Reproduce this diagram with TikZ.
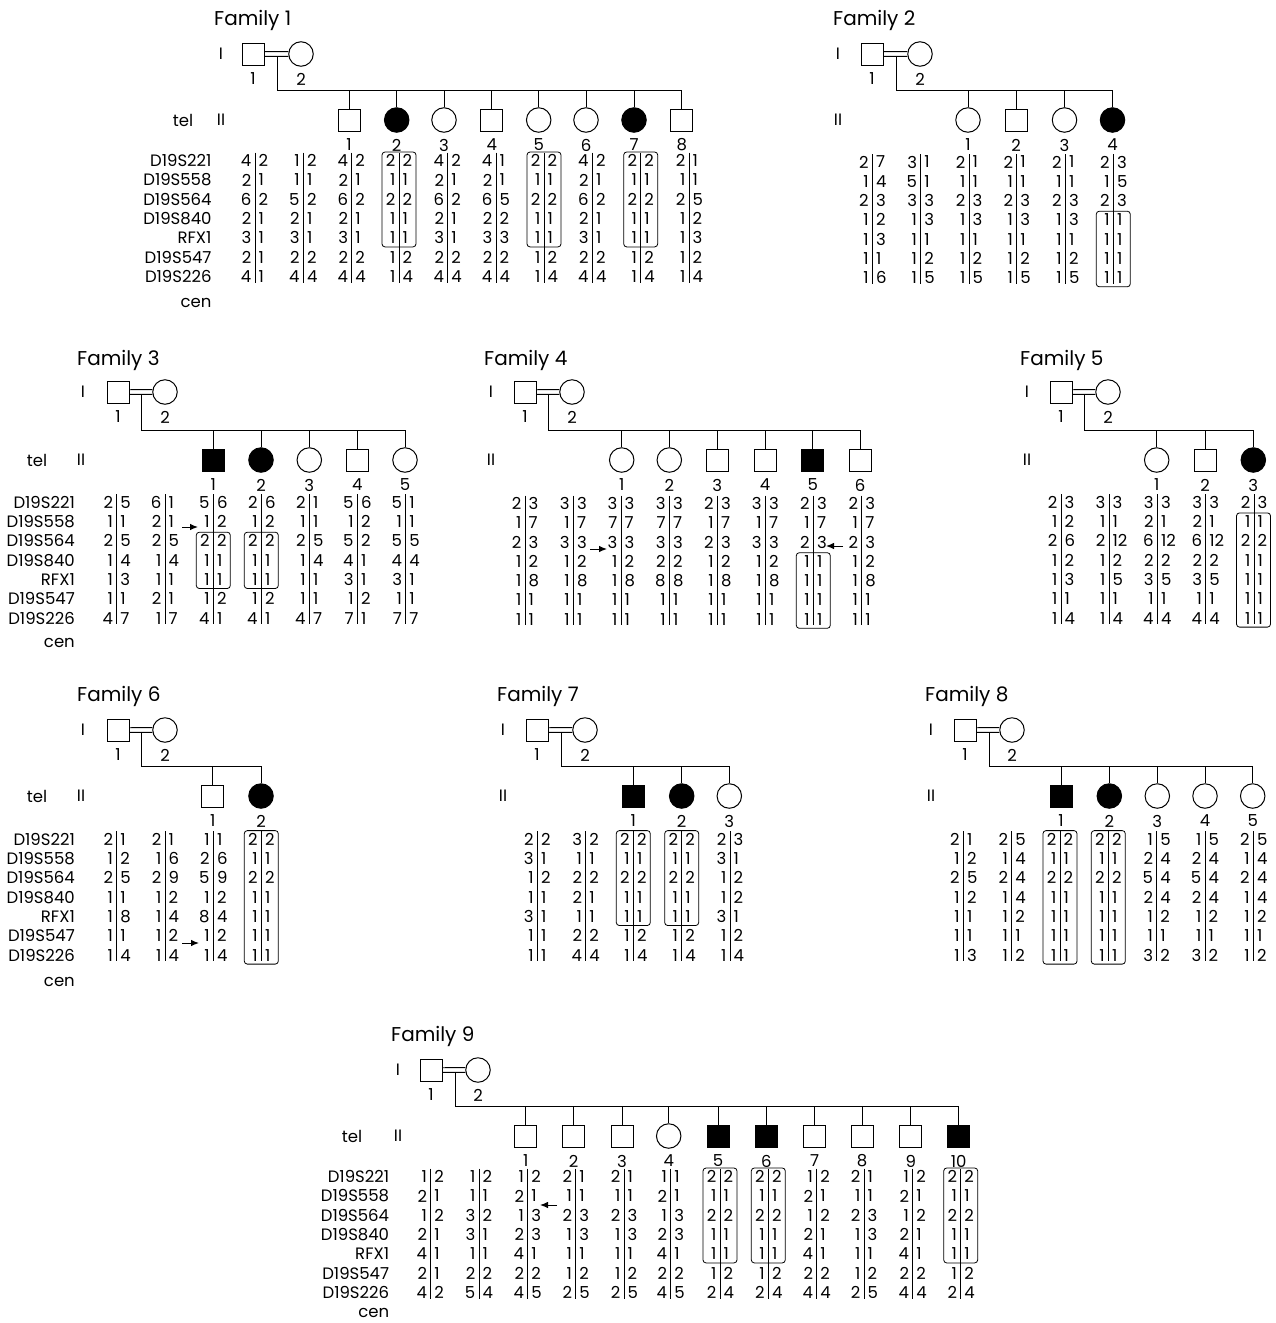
\documentclass[tikz,border=0pt]{standalone}
\usepackage{fontspec}
\setmainfont{Poppins}
\usetikzlibrary{arrows.meta}
\newcommand\df{\fontsize{16.5}{19}\selectfont}
\newcommand\tf{\fontsize{20}{23}\selectfont}
\def\rs{19.3}
\tikzset{
 sym/.style={draw, line width=1pt, inner sep=0pt},
 sq/.style={sym, rectangle, minimum size=22pt},
 sqf/.style={sq, fill=black},
 ci/.style={sym, circle, minimum size=24.5pt},
 cif/.style={ci, fill=black},
 dig/.style={inner sep=0pt, font=\df},
 tt/.style={inner sep=0pt, font=\tf},
 hbar/.style={line width=0.9pt},
 hbx/.style={line width=0.8pt, rounded corners=3pt},
 arr/.style={line width=1pt, -{Latex[length=8pt,width=6.5pt]}},
 ln/.style={line width=0.9pt},
}
\newcommand{\hapcol}[4]{%
  \coordinate (#1t) at (#2,#3-8);
  \coordinate (#1b) at (#2,#3+6*\rs+6);
  \draw[hbar] (#1t) -- (#1b);
  \foreach \hL/\hR [count=\i from 0] in {#4}{%
    \node[dig,anchor=east] (#1l\i) at (#2-3.5,#3+\i*\rs) {\hL};
    \node[dig,anchor=west] (#1r\i) at (#2+3.5,#3+\i*\rs) {\hR};
  }%
}
\newcommand{\markers}[4]{%
  \foreach \m [count=\i from 0] in {D19S221,D19S558,D19S564,D19S840,RFX1,D19S547,D19S226}{%
    \node[dig,anchor=east] (#1m\i) at (#2,#3+\i*\rs) {\m};
  }%
  \node[dig,anchor=east] (#1cen) at (#2,#3+6*\rs+#4) {cen};
}
\newcommand{\parents}[5]{%
  \node[sq] (#1p1) at (#2,#4) {};
  \node[ci] (#1p2) at (#3,#4) {};
  \draw[ln] ([yshift=2.3pt]#1p1.east) -- (#1p2.169);
  \draw[ln] ([yshift=-2.3pt]#1p1.east) -- (#1p2.191);
  \node[dig] (#1pl1) at (#2,#4+25) {1};
  \node[dig] (#1pl2) at (#3,#4+25) {2};
  \coordinate (#1j) at (#5,#4+2.3);
}
\newcommand{\sibs}[4]{%
  \coordinate (#1s) at (#2,#3);
  \coordinate (#1e) at (#4,#3);
  \draw[ln] (#1j) -- (#1s) -- (#1e);
}
\newcommand{\kid}[5]{%
  \node[#5] (#1c#2) at (#3,#4) {};
  \node[dig] (#1n#2) at (#3,#4+25) {#2};
  \draw[ln] (#1c#2.north) -- (#1c#2.north |- #1s);
}
\newcommand{\hapbox}[5]{%
  \coordinate (#1a) at (#2-17,#3+#4*\rs-\rs-8.7);
  \coordinate (#1b) at (#2+17,#3+#5*\rs-\rs+9);
  \draw[hbx] (#1a) rectangle (#1b);
}
\newcommand{\harrow}[4]{%
  \coordinate (#1a) at (#2,#4);
  \coordinate (#1b) at (#3,#4);
  \draw[arr] (#1a) -- (#1b);
}
\begin{document}
\begin{tikzpicture}[x=1pt,y=-1pt]
\path[use as bounding box] (0,0) rectangle (1275,1323);

% ---------------- Family 1
\node[tt,anchor=base west] (f1t) at (214,25) {Family 1};
\node[dig] (f1I) at (221,54) {I};
\node[dig] (f1II) at (221,120) {II};
\node[dig] (f1tel) at (183,120) {tel};
\parents{f1}{253}{301}{54}{277.3}
\sibs{f1}{277.3}{90}{681.7}
\kid{f1}{1}{349}{120}{sq}
\kid{f1}{2}{396.7}{120}{cif}
\kid{f1}{3}{444}{120}{ci}
\kid{f1}{4}{491.7}{120}{sq}
\kid{f1}{5}{538.7}{120}{ci}
\kid{f1}{6}{586}{120}{ci}
\kid{f1}{7}{634}{120}{cif}
\kid{f1}{8}{681.7}{120}{sq}
\markers{f1}{211.7}{160.7}{26.5}
\hapcol{f1h1}{255}{160.7}{4/2,2/1,6/2,2/1,3/1,2/1,4/1}
\hapcol{f1h2}{303.3}{160.7}{1/2,1/1,5/2,2/1,3/1,2/2,4/4}
\hapcol{f1h3}{351.7}{160.7}{4/2,2/1,6/2,2/1,3/1,2/2,4/4}
\hapcol{f1h4}{399}{160.7}{2/2,1/1,2/2,1/1,1/1,1/2,1/4}
\hapcol{f1h5}{447.7}{160.7}{4/2,2/1,6/2,2/1,3/1,2/2,4/4}
\hapcol{f1h6}{496}{160.7}{4/1,2/1,6/5,2/2,3/3,2/2,4/4}
\hapcol{f1h7}{544}{160.7}{2/2,1/1,2/2,1/1,1/1,1/2,1/4}
\hapcol{f1h8}{592.3}{160.7}{4/2,2/1,6/2,2/1,3/1,2/2,4/4}
\hapcol{f1h9}{640.7}{160.7}{2/2,1/1,2/2,1/1,1/1,1/2,1/4}
\hapcol{f1hA}{689}{160.7}{2/1,1/1,2/5,1/2,1/3,1/2,1/4}
\hapbox{f1x1}{399}{160.7}{1}{5}
\hapbox{f1x2}{544}{160.7}{1}{5}
\hapbox{f1x3}{640.7}{160.7}{1}{5}

% ---------------- Family 2
\node[tt,anchor=base west] (f2t) at (833,25) {Family 2};
\node[dig] (f2I) at (838,54) {I};
\node[dig] (f2II) at (838,120) {II};
\parents{f2}{872}{920}{54}{896}
\sibs{f2}{896}{90}{1112.5}
\kid{f2}{1}{968}{120}{ci}
\kid{f2}{2}{1016}{120}{sq}
\kid{f2}{3}{1064.5}{120}{ci}
\kid{f2}{4}{1112.5}{120}{cif}
\hapcol{f2h1}{872.3}{162}{2/7,1/4,2/3,1/2,1/3,1/1,1/6}
\hapcol{f2h2}{920.7}{162}{3/1,5/1,3/3,1/3,1/1,1/2,1/5}
\hapcol{f2h3}{969}{162}{2/1,1/1,2/3,1/3,1/1,1/2,1/5}
\hapcol{f2h4}{1016.7}{162}{2/1,1/1,2/3,1/3,1/1,1/2,1/5}
\hapcol{f2h5}{1065.3}{162}{2/1,1/1,2/3,1/3,1/1,1/2,1/5}
\hapcol{f2h6}{1113.3}{162}{2/3,1/5,2/3,1/1,1/1,1/1,1/1}
\hapbox{f2x1}{1113.3}{162}{4}{7}

% ---------------- Family 3
\node[tt,anchor=base west] (f3t) at (77,365) {Family 3};
\node[dig] (f3I) at (83,392) {I};
\node[dig] (f3II) at (81,460) {II};
\node[dig] (f3tel) at (37,460) {tel};
\parents{f3}{118}{165}{392}{141}
\sibs{f3}{141}{430}{405}
\kid{f3}{1}{213.3}{460}{sqf}
\kid{f3}{2}{261}{460}{cif}
\kid{f3}{3}{309.3}{460}{ci}
\kid{f3}{4}{357.3}{460}{sq}
\kid{f3}{5}{405}{460}{ci}
\markers{f3}{75}{502.3}{25}
\hapcol{f3h1}{116.7}{502.3}{2/5,1/1,2/5,1/4,1/3,1/1,4/7}
\hapcol{f3h2}{165}{502.3}{6/1,2/1,2/5,1/4,1/1,2/1,1/7}
\hapcol{f3h3}{213.3}{502.3}{5/6,1/2,2/2,1/1,1/1,1/2,4/1}
\hapcol{f3h4}{261.3}{502.3}{2/6,1/2,2/2,1/1,1/1,1/2,4/1}
\hapcol{f3h5}{309.3}{502.3}{2/1,1/1,2/5,1/4,1/1,1/1,4/7}
\hapcol{f3h6}{357.3}{502.3}{5/6,1/2,5/2,4/1,3/1,1/2,7/1}
\hapcol{f3h7}{405.7}{502.3}{5/1,1/1,5/5,4/4,3/1,1/1,7/7}
\hapbox{f3x1}{213.3}{502.3}{3}{5}
\hapbox{f3x2}{261.3}{502.3}{3}{5}
\harrow{f3a1}{182}{198}{527}

% ---------------- Family 4
\node[tt,anchor=base west] (f4t) at (484,365) {Family 4};
\node[dig] (f4I) at (491,392) {I};
\node[dig] (f4II) at (491,460) {II};
\parents{f4}{525}{572}{392}{548}
\sibs{f4}{548}{430}{860}
\kid{f4}{1}{621.7}{460}{ci}
\kid{f4}{2}{669.3}{460}{ci}
\kid{f4}{3}{717.3}{460}{sq}
\kid{f4}{4}{765}{460}{sq}
\kid{f4}{5}{812.7}{460}{sqf}
\kid{f4}{6}{860}{460}{sq}
\hapcol{f4h1}{525}{503.5}{2/3,1/7,2/3,1/2,1/8,1/1,1/1}
\hapcol{f4h2}{573.3}{503.5}{3/3,1/7,3/3,1/2,1/8,1/1,1/1}
\hapcol{f4h3}{621}{503.5}{3/3,7/7,3/3,1/2,1/8,1/1,1/1}
\hapcol{f4h4}{669.3}{503.5}{3/3,7/7,3/3,2/2,8/8,1/1,1/1}
\hapcol{f4h5}{717.3}{503.5}{2/3,1/7,2/3,1/2,1/8,1/1,1/1}
\hapcol{f4h6}{765.3}{503.5}{3/3,1/7,3/3,1/2,1/8,1/1,1/1}
\hapcol{f4h7}{813.3}{503.5}{2/3,1/7,2/3,1/1,1/1,1/1,1/1}
\hapcol{f4h8}{861.7}{503.5}{2/3,1/7,2/3,1/2,1/8,1/1,1/1}
\hapbox{f4x1}{813.3}{503.5}{4}{7}
\harrow{f4a1}{590}{607}{549}
\harrow{f4a2}{843}{826}{546}

% ---------------- Family 5
\node[tt,anchor=base west] (f5t) at (1020,365) {Family 5};
\node[dig] (f5I) at (1027,392) {I};
\node[dig] (f5II) at (1027,460) {II};
\parents{f5}{1061}{1108}{392}{1084}
\sibs{f5}{1084}{430}{1253.3}
\kid{f5}{1}{1156.7}{460}{ci}
\kid{f5}{2}{1205}{460}{sq}
\kid{f5}{3}{1253.3}{460}{cif}
\hapcol{f5h1}{1061}{502.3}{2/3,1/2,2/6,1/2,1/3,1/1,1/4}
\hapcol{f5h2}{1109}{502.3}{3/3,1/1,2/12,1/2,1/5,1/1,1/4}
\hapcol{f5h3}{1157.3}{502.3}{3/3,2/1,6/12,2/2,3/5,1/1,4/4}
\hapcol{f5h4}{1205.7}{502.3}{3/3,2/1,6/12,2/2,3/5,1/1,4/4}
\hapcol{f5h5}{1254}{502.3}{2/3,1/1,2/2,1/1,1/1,1/1,1/1}
\hapbox{f5x1}{1253.5}{502.3}{2}{7}

% ---------------- Family 6
\node[tt,anchor=base west] (f6t) at (77,701) {Family 6};
\node[dig] (f6I) at (83,730) {I};
\node[dig] (f6II) at (81,796) {II};
\node[dig] (f6tel) at (37,796) {tel};
\parents{f6}{118}{165}{730}{141}
\sibs{f6}{141}{766}{261}
\kid{f6}{1}{212.7}{796}{sq}
\kid{f6}{2}{261}{796}{cif}
\markers{f6}{75}{839.3}{27}
\hapcol{f6h1}{116.7}{839.3}{2/1,1/2,2/5,1/1,1/8,1/1,1/4}
\hapcol{f6h2}{165}{839.3}{2/1,1/6,2/9,1/2,1/4,1/2,1/4}
\hapcol{f6h3}{213.3}{839.3}{1/1,2/6,5/9,1/2,8/4,1/2,1/4}
\hapcol{f6h4}{261.3}{839.3}{2/2,1/1,2/2,1/1,1/1,1/1,1/1}
\hapbox{f6x1}{261.3}{839.3}{1}{7}
\harrow{f6a1}{182}{199}{943}

% ---------------- Family 7
\node[tt,anchor=base west] (f7t) at (497,701) {Family 7};
\node[dig] (f7I) at (503,730) {I};
\node[dig] (f7II) at (503,796) {II};
\parents{f7}{537}{585}{730}{561}
\sibs{f7}{561}{766}{729.3}
\kid{f7}{1}{633.3}{796}{sqf}
\kid{f7}{2}{681.7}{796}{cif}
\kid{f7}{3}{729.3}{796}{ci}
\hapcol{f7h1}{537.3}{839.3}{2/2,3/1,1/2,1/1,3/1,1/1,1/1}
\hapcol{f7h2}{585.7}{839.3}{3/2,1/1,2/2,2/1,1/1,2/2,4/4}
\hapcol{f7h3}{633.3}{839.3}{2/2,1/1,2/2,1/1,1/1,1/2,1/4}
\hapcol{f7h4}{681.7}{839.3}{2/2,1/1,2/2,1/1,1/1,1/2,1/4}
\hapcol{f7h5}{730}{839.3}{2/3,3/1,1/2,1/2,3/1,1/2,1/4}
\hapbox{f7x1}{633.3}{839.3}{1}{5}
\hapbox{f7x2}{681.7}{839.3}{1}{5}

% ---------------- Family 8
\node[tt,anchor=base west] (f8t) at (925,701) {Family 8};
\node[dig] (f8I) at (931,730) {I};
\node[dig] (f8II) at (931,796) {II};
\parents{f8}{965}{1012}{730}{989}
\sibs{f8}{989}{766}{1252.7}
\kid{f8}{1}{1061}{796}{sqf}
\kid{f8}{2}{1109.3}{796}{cif}
\kid{f8}{3}{1157.3}{796}{ci}
\kid{f8}{4}{1205}{796}{ci}
\kid{f8}{5}{1252.7}{796}{ci}
\hapcol{f8h1}{963.3}{839.3}{2/1,1/2,2/5,1/2,1/1,1/1,1/3}
\hapcol{f8h2}{1011.7}{839.3}{2/5,1/4,2/4,1/4,1/2,1/1,1/2}
\hapcol{f8h3}{1060}{839.3}{2/2,1/1,2/2,1/1,1/1,1/1,1/1}
\hapcol{f8h4}{1108.3}{839.3}{2/2,1/1,2/2,1/1,1/1,1/1,1/1}
\hapcol{f8h5}{1156.7}{839.3}{1/5,2/4,5/4,2/4,1/2,1/1,3/2}
\hapcol{f8h6}{1205}{839.3}{1/5,2/4,5/4,2/4,1/2,1/1,3/2}
\hapcol{f8h7}{1253.3}{839.3}{2/5,1/4,2/4,1/4,1/2,1/1,1/2}
\hapbox{f8x1}{1060}{839.3}{1}{7}
\hapbox{f8x2}{1108.3}{839.3}{1}{7}

% ---------------- Family 9
\node[tt,anchor=base west] (f9t) at (391,1041) {Family 9};
\node[dig] (f9I) at (398,1070) {I};
\node[dig] (f9II) at (398,1136) {II};
\node[dig] (f9tel) at (352,1136) {tel};
\parents{f9}{431}{478}{1070}{455}
\sibs{f9}{455}{1106}{958.7}
\kid{f9}{1}{525.7}{1136}{sq}
\kid{f9}{2}{573.7}{1136}{sq}
\kid{f9}{3}{622}{1136}{sq}
\kid{f9}{4}{668.7}{1136}{ci}
\kid{f9}{5}{718}{1136}{sqf}
\kid{f9}{6}{766.3}{1136}{sqf}
\kid{f9}{7}{814.7}{1136}{sq}
\kid{f9}{8}{862}{1136}{sq}
\kid{f9}{9}{910.7}{1136}{sq}
\kid{f9}{10}{958.7}{1136}{sqf}
\markers{f9}{389.3}{1176.7}{20}
\hapcol{f9h1}{430.7}{1176.7}{1/2,2/1,1/2,2/1,4/1,2/1,4/2}
\hapcol{f9h2}{479}{1176.7}{1/2,1/1,3/2,3/1,1/1,2/2,5/4}
\hapcol{f9h3}{527.7}{1176.7}{1/2,2/1,1/3,2/3,4/1,2/2,4/5}
\hapcol{f9h4}{575.7}{1176.7}{2/1,1/1,2/3,1/3,1/1,1/2,2/5}
\hapcol{f9h5}{624}{1176.7}{2/1,1/1,2/3,1/3,1/1,1/2,2/5}
\hapcol{f9h6}{670.7}{1176.7}{1/1,2/1,1/3,2/3,4/1,2/2,4/5}
\hapcol{f9h7}{720}{1176.7}{2/2,1/1,2/2,1/1,1/1,1/2,2/4}
\hapcol{f9h8}{768.3}{1176.7}{2/2,1/1,2/2,1/1,1/1,1/2,2/4}
\hapcol{f9h9}{816.7}{1176.7}{1/2,2/1,1/2,2/1,4/1,2/2,4/4}
\hapcol{f9hA}{864}{1176.7}{2/1,1/1,2/3,1/3,1/1,1/2,2/5}
\hapcol{f9hB}{912.7}{1176.7}{1/2,2/1,1/2,2/1,4/1,2/2,4/4}
\hapcol{f9hC}{960.7}{1176.7}{2/2,1/1,2/2,1/1,1/1,1/2,2/4}
\hapbox{f9x1}{720}{1176.7}{1}{5}
\hapbox{f9x2}{768.3}{1176.7}{1}{5}
\hapbox{f9x3}{960.7}{1176.7}{1}{5}
\harrow{f9a1}{557}{540}{1205}
\end{tikzpicture}
\end{document}
